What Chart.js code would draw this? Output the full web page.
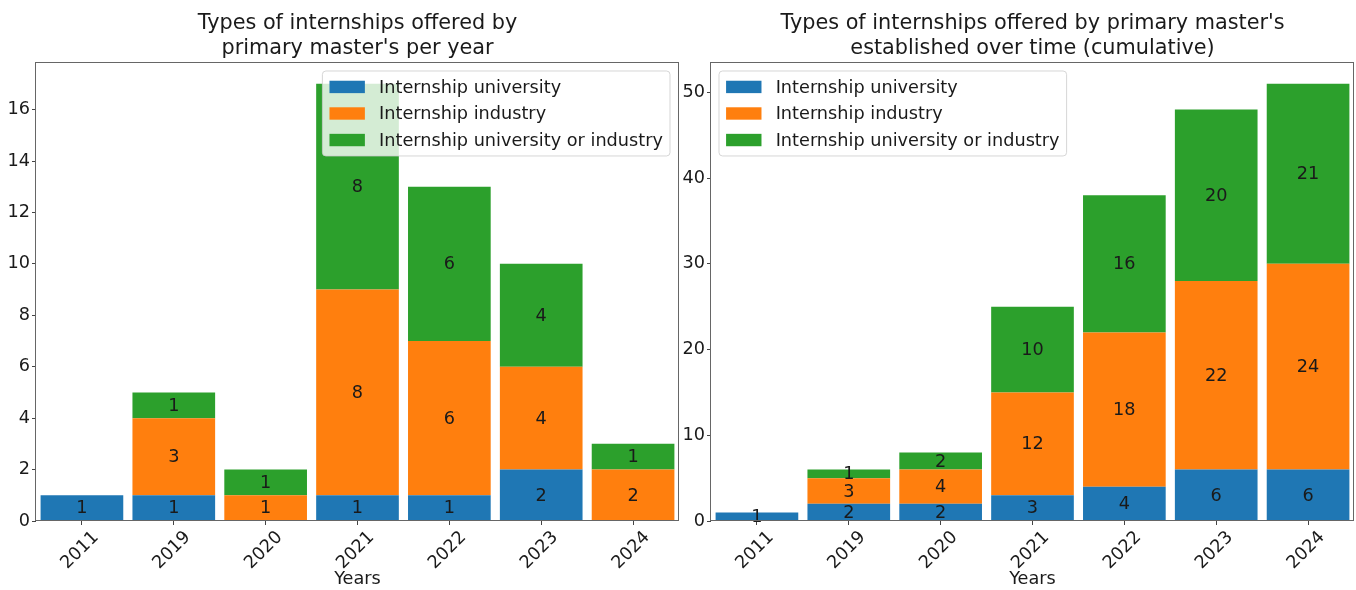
<!DOCTYPE html>
<html>
<head>
<meta charset="utf-8">
<title>Types of internships</title>
<script src="https://cdn.jsdelivr.net/npm/chart.js@4"></script>
<style>
  html, body { margin: 0; padding: 0; background: #fff; overflow: hidden; }
  #wrap { position: relative; width: 1356px; height: 590px; overflow: hidden; }
  canvas { position: absolute; top: 0; }
</style>
</head>
<body>
<div id="wrap">
  <canvas id="perYear" width="680" height="590" style="left:0"></canvas>
  <canvas id="cumulative" width="676" height="590" style="left:680px"></canvas>
</div>
<script>
const years = ["2011", "2019", "2020", "2021", "2022", "2023", "2024"];
const seriesNames = ["Internship university", "Internship industry", "Internship university or industry"];
const colors = ["#1f77b4", "#ff7f0e", "#2ca02c"];

const perYearUniversity = [1, 1, 0, 1, 1, 2, 0];
const perYearIndustry = [0, 3, 1, 8, 6, 4, 2];
const perYearEither = [0, 1, 1, 8, 6, 4, 1];

const cumulativeUniversity = [1, 2, 2, 3, 4, 6, 6];
const cumulativeIndustry = [0, 3, 4, 12, 18, 22, 24];
const cumulativeEither = [0, 1, 2, 10, 16, 20, 21];

const FONT = '"DejaVu Sans", sans-serif';
const FS = 17.7;
const TEXT = "#1a1a1a";

// bar_label style numbers in the middle of each segment
const segmentLabels = {
  id: "segmentLabels",
  afterDatasetsDraw(chart) {
    const ctx = chart.ctx;
    ctx.save();
    ctx.font = `${FS}px ${FONT}`;
    ctx.fillStyle = TEXT;
    ctx.textAlign = "center";
    ctx.textBaseline = "middle";
    chart.data.datasets.forEach((ds, i) => {
      chart.getDatasetMeta(i).data.forEach((bar, j) => {
        if (!ds.data[j]) return;
        const { x, y, base } = bar.getProps(["x", "y", "base"], true);
        ctx.fillText(String(ds.data[j]), x, (y + base) / 2 + 1);
      });
    });
    ctx.restore();
  },
};

// title centred over the axes, matplotlib-like legend inside them, and the four spines
const axesDecor = {
  id: "axesDecor",
  afterDraw(chart, args, opts) {
    const ctx = chart.ctx;
    const area = chart.chartArea;
    ctx.save();

    ctx.font = `20.8px ${FONT}`;
    ctx.fillStyle = TEXT;
    ctx.textAlign = "center";
    ctx.textBaseline = "alphabetic";
    const cx = (area.left + area.right) / 2;
    opts.title.forEach((line, i) => ctx.fillText(line, cx, 29 + i * 25));

    ctx.font = `${FS}px ${FONT}`;
    const pad = 0.4 * FS, handleW = 2 * FS, handleH = 0.7 * FS, gap = 0.8 * FS;
    const textH = FS, spacing = 0.5 * FS;
    const names = chart.data.datasets.map(d => d.label);
    const maxW = Math.max(...names.map(n => ctx.measureText(n).width));
    const w = pad * 2 + handleW + gap + maxW;
    const h = pad * 2 + names.length * textH + (names.length - 1) * spacing;
    const left = opts.side === "right" ? area.right - 9 - w : area.left + 8;
    const top = area.top + 9;

    ctx.beginPath();
    ctx.roundRect(left, top, w, h, 3.5);
    ctx.fillStyle = "rgba(255,255,255,0.8)";
    ctx.fill();
    ctx.strokeStyle = "rgba(204,204,204,0.8)";
    ctx.lineWidth = 1;
    ctx.stroke();

    ctx.textBaseline = "middle";
    ctx.textAlign = "left";
    names.forEach((n, i) => {
      const cy = top + pad + textH / 2 + i * (textH + spacing);
      ctx.fillStyle = chart.data.datasets[i].backgroundColor;
      ctx.fillRect(left + pad, cy - handleH / 2, handleW, handleH);
      ctx.fillStyle = TEXT;
      ctx.fillText(n, left + pad + handleW + gap, cy + 1);
    });

    ctx.strokeStyle = "#666";
    ctx.lineWidth = 1;
    ctx.strokeRect(area.left - 0.5, area.top + 0.5, area.right - area.left, area.bottom - area.top - 1);
    ctx.restore();
  },
};

function makeChart(id, values, title, yMax, yStep, side, axisWidth, padRight) {
  return new Chart(document.getElementById(id), {
    type: "bar",
    data: {
      labels: years,
      datasets: values.map((v, i) => ({
        label: seriesNames[i],
        data: v,
        backgroundColor: colors[i],
        borderWidth: 0,
        categoryPercentage: 0.9,
        barPercentage: 1.0,
      })),
    },
    options: {
      responsive: false,
      animation: false,
      events: [],
      layout: { padding: { left: 0, right: padRight, top: 62, bottom: 0 } },
      scales: {
        x: {
          stacked: true,
          grid: { offset: false, drawOnChartArea: false, tickLength: 4, color: "#444" },
          border: { display: false },
          ticks: {
            autoSkip: false,
            minRotation: 45,
            maxRotation: 45,
            labelOffset: 14,
            padding: 2,
            color: TEXT,
            font: { family: FONT, size: FS },
          },
          title: {
            display: true,
            text: "Years",
            color: TEXT,
            font: { family: FONT, size: FS },
            padding: { top: 0, bottom: 0 },
          },
          afterFit(scale) { scale.height = 69; },
        },
        y: {
          stacked: true,
          min: 0,
          max: yMax,
          grid: { drawOnChartArea: false, tickLength: 4, color: "#444" },
          border: { display: false },
          ticks: {
            stepSize: yStep,
            includeBounds: false,
            padding: 2,
            color: TEXT,
            font: { family: FONT, size: FS },
          },
          afterFit(scale) { scale.width = axisWidth; },
        },
      },
      plugins: {
        legend: { display: false },
        tooltip: { enabled: false },
        title: { display: false },
        axesDecor: { side: side, title: title },
      },
    },
    plugins: [segmentLabels, axesDecor],
  });
}

makeChart("perYear",
  [perYearUniversity, perYearIndustry, perYearEither],
  ["Types of internships offered by", "primary master's per year"],
  17.85, 2, "right", 36, 1);

makeChart("cumulative",
  [cumulativeUniversity, cumulativeIndustry, cumulativeEither],
  ["Types of internships offered by primary master's", "established over time (cumulative)"],
  53.55, 10, "left", 31, 2);
</script>
</body>
</html>
